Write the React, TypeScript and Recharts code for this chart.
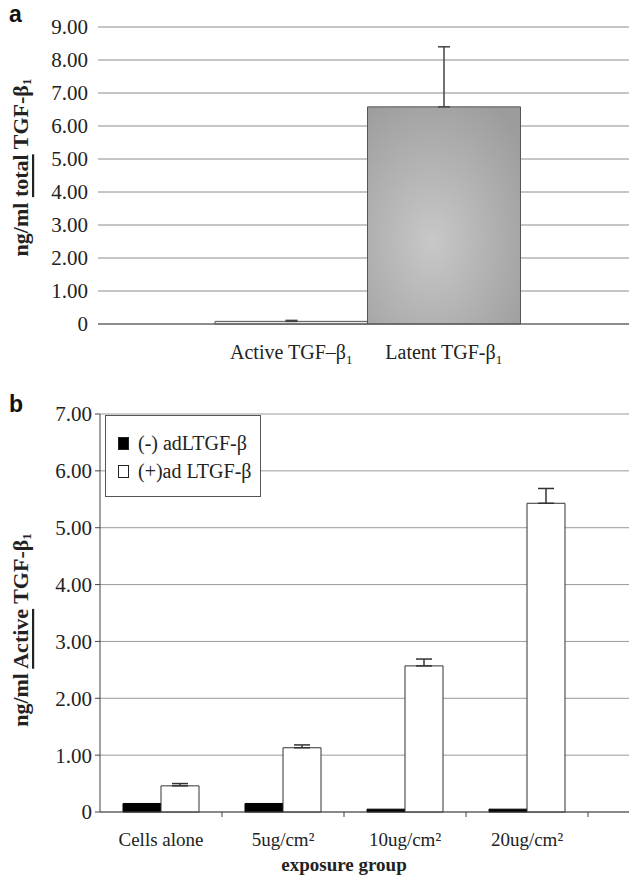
import React from 'react'
import { Bar, BarChart, CartesianGrid, Cell, ErrorBar, Legend, XAxis, YAxis } from 'recharts'

// panel a: total TGF-beta1
const totalNames = ['Active TGF–β', 'Latent TGF-β']
const totalValues = [0.08, 6.58]
const totalErrors = [0.03, 1.82]
const totalTicks = [0, 1, 2, 3, 4, 5, 6, 7, 8, 9]

// panel b: active TGF-beta1 by exposure group
const groups = ['Cells alone', '5ug/cm²', '10ug/cm²', '20ug/cm²']
const seriesNames = ['(-) adLTGF-β', '(+)ad LTGF-β']
const minusValues = [0.15, 0.15, 0.05, 0.05]
const plusValues = [0.46, 1.13, 2.57, 5.43]
const plusErrors = [0.04, 0.05, 0.12, 0.26]
const activeTicks = [0, 1, 2, 3, 4, 5, 6, 7]

const totalData = totalNames.map((name, i) => ({
  name,
  value: totalValues[i],
  err: [0, totalErrors[i]],
}))

const activeData = groups.map((group, i) => ({
  group,
  minus: minusValues[i],
  plus: plusValues[i],
  plusErr: [0, plusErrors[i]],
}))

const SERIF = '"Liberation Serif", "Times New Roman", serif'
const fmt = (v: number) => (v === 0 ? '0' : v.toFixed(2))

function YTitle({ viewBox, lead, emph, shift = 0 }: any) {
  const x = (viewBox?.x ?? 0) + 20
  const y = (viewBox?.y ?? 0) + (viewBox?.height ?? 0) / 2 + shift
  return (
    <text
      x={x}
      y={y}
      transform={`rotate(-90, ${x}, ${y})`}
      textAnchor="middle"
      dominantBaseline="central"
      fontWeight="bold"
      fontSize={22}
      fill="#222"
      fontFamily={SERIF}
    >
      {lead}
      <tspan style={{ textDecoration: 'underline' }}>{emph}</tspan>
      {' TGF-β'}
      <tspan fontSize={13} dy={6}>1</tspan>
    </text>
  )
}

function TotalTick({ x, y, payload }: any) {
  return (
    <text x={x} y={y + 35} textAnchor="middle" fontSize={20} fill="#222" fontFamily={SERIF}>
      {payload.value}
      <tspan fontSize={13} dy={5}>1</tspan>
    </text>
  )
}

function GroupTick({ x, y, payload, index }: any) {
  const half = payload.offset ?? 61
  return (
    <g>
      {index > 0 && <line x1={x - half} x2={x - half} y1={y} y2={y + 5} stroke="#444" />}
      {index === groups.length - 1 && (
        <line x1={x + half} x2={x + half} y1={y} y2={y + 5} stroke="#444" />
      )}
      <text x={x} y={y + 34} textAnchor="middle" fontSize={19} fill="#222" fontFamily={SERIF}>
        {payload.value}
      </text>
    </g>
  )
}

function GroupTitle() {
  return (
    <text x={344} y={491} textAnchor="middle" fontSize={19} fontWeight="bold" fill="#222" fontFamily={SERIF}>
      exposure group
    </text>
  )
}

function LegendBox({ payload }: any) {
  const items = [...(payload ?? [])].sort(
    (a: any, b: any) => seriesNames.indexOf(a.value) - seriesNames.indexOf(b.value),
  )
  return (
    <div
      style={{
        border: '1px solid #555',
        background: '#fff',
        padding: '13px 8px 11px 12px',
        fontFamily: SERIF,
        fontSize: 20,
        color: '#222',
        lineHeight: '28px',
      }}
    >
      {items.map((p: any) => (
        <div key={p.value} style={{ display: 'flex', alignItems: 'center' }}>
          <span
            style={{
              display: 'inline-block',
              width: 9,
              height: 11,
              marginRight: 9,
              background: p.payload?.fill ?? p.color,
              border: '1px solid #222',
            }}
          />
          {p.value}
        </div>
      ))}
    </div>
  )
}

function PanelTag({ text, top }: { text: string; top: number }) {
  return (
    <div
      style={{
        position: 'absolute',
        left: 9,
        top,
        fontFamily: '"Liberation Sans", Arial, sans-serif',
        fontWeight: 'bold',
        fontSize: 23,
        lineHeight: '24px',
        color: '#111',
      }}
    >
      {text}
    </div>
  )
}

export default function App() {
  return (
    <div
      style={{
        position: 'absolute',
        left: 0,
        top: 0,
        width: 629,
        height: 878,
        background: '#fff',
        fontFamily: SERIF,
      }}
    >
      <PanelTag text="a" top={2} />
      <PanelTag text="b" top={392} />

      <div style={{ position: 'absolute', left: 0, top: 0 }}>
        <BarChart
          width={629}
          height={380}
          data={totalData}
          margin={{ top: 27, right: 0, left: 0, bottom: 0 }}
          barCategoryGap={0}
        >
          <defs>
            <radialGradient id="latentFill" cx="42%" cy="62%" r="75%">
              <stop offset="0%" stopColor="#c8c8c8" />
              <stop offset="100%" stopColor="#9c9c9c" />
            </radialGradient>
          </defs>
          <CartesianGrid vertical={false} stroke="#8c8c8c" />
          <XAxis
            dataKey="name"
            height={56}
            padding={{ left: 117, right: 109 }}
            axisLine={{ stroke: '#555' }}
            tickLine={false}
            tickSize={0}
            tickMargin={0}
            interval={0}
            tick={<TotalTick />}
          />
          <YAxis
            width={98}
            domain={[0, 9]}
            ticks={totalTicks}
            tickFormatter={fmt}
            axisLine={false}
            tickLine={false}
            tickMargin={4}
            tick={{ fontSize: 21, fill: '#222', fontFamily: SERIF }}
            label={<YTitle lead="ng/ml " emph="total" shift={-8} />}
          />
          <Bar dataKey="value" stroke="#555" isAnimationActive={false}>
            {totalData.map((d, i) => (
              <Cell key={d.name} fill={i === 0 ? '#e8e8e8' : 'url(#latentFill)'} />
            ))}
            <ErrorBar dataKey="err" width={6} stroke="#444" direction="y" />
          </Bar>
        </BarChart>
      </div>

      <div style={{ position: 'absolute', left: 0, top: 380 }}>
        <BarChart
          width={629}
          height={498}
          data={activeData}
          margin={{ top: 34, right: 0, left: 0, bottom: 0 }}
          barGap={0}
          barSize={38}
        >
          <CartesianGrid vertical={false} stroke="#9a9a9a" />
          <XAxis
            dataKey="group"
            height={66}
            padding={{ left: 0, right: 41 }}
            axisLine={{ stroke: '#444' }}
            tickLine={false}
            tickSize={0}
            tickMargin={0}
            interval={0}
            tick={<GroupTick />}
            label={<GroupTitle />}
          />
          <YAxis
            width={100}
            domain={[0, 7]}
            ticks={activeTicks}
            tickFormatter={fmt}
            axisLine={{ stroke: '#444' }}
            tickLine={{ stroke: '#444' }}
            tickSize={5}
            tickMargin={3}
            tick={{ fontSize: 21, fill: '#222', fontFamily: SERIF }}
            label={<YTitle lead="ng/ml " emph="Active" shift={17} />}
          />
          <Legend
            layout="vertical"
            align="center"
            verticalAlign="middle"
            content={<LegendBox />}
            wrapperStyle={{ position: 'absolute', left: 105, top: 35, width: 156, height: 'auto' }}
          />
          <Bar dataKey="minus" name={seriesNames[0]} fill="#000" stroke="#000" isAnimationActive={false} />
          <Bar dataKey="plus" name={seriesNames[1]} fill="#fff" stroke="#333" isAnimationActive={false}>
            <ErrorBar dataKey="plusErr" width={8} stroke="#333" direction="y" />
          </Bar>
        </BarChart>
      </div>
    </div>
  )
}
